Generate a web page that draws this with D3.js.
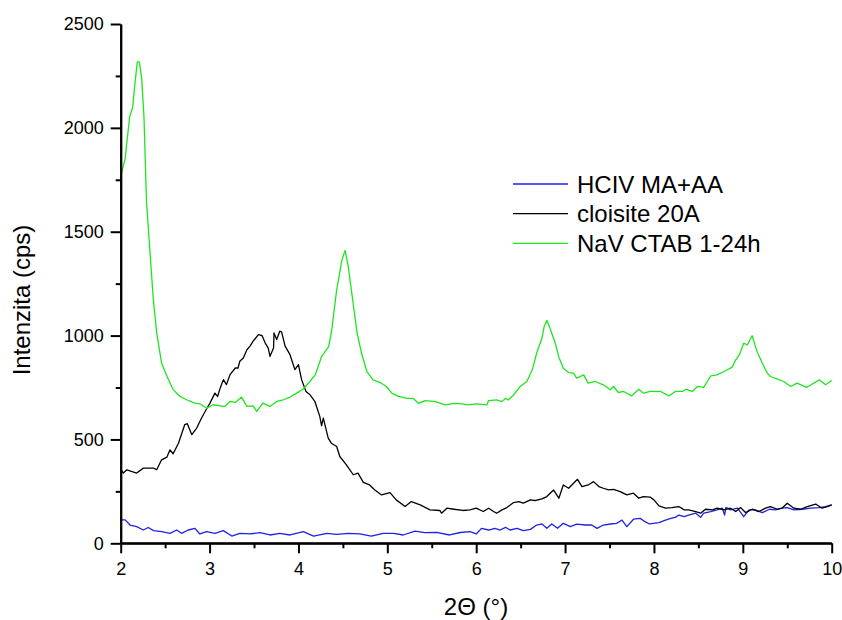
<!DOCTYPE html>
<html>
<head>
<meta charset="utf-8">
<script src="https://cdn.jsdelivr.net/npm/d3@7"></script>
<style>
  body { margin: 0; background: #fff; }
  svg { display: block; font-family: "Liberation Sans", Arial, sans-serif; }
</style>
</head>
<body>
<div class="chart-area"></div>
<script>
// series: [2theta, intensity (cps)]
const hciv = [[2.0,113],[2.05,113],[2.105,88],[2.18,80],[2.255,64],[2.31,76],[2.37,61],[2.46,56],[2.555,48],[2.63,64],[2.685,48],[2.76,64],[2.836,72],[2.89,45],[2.967,56],[3.06,48],[3.155,61],[3.25,35],[3.34,48],[3.455,45],[3.57,51],[3.68,40],[3.79,48],[3.905,40],[4.055,56],[4.17,35],[4.32,48],[4.43,43],[4.56,48],[4.69,45],[4.82,35],[4.955,48],[5.07,48],[5.18,40],[5.31,59],[5.42,51],[5.555,53],[5.7,40],[5.82,52],[5.93,56],[6.0,45],[6.06,72],[6.14,64],[6.21,72],[6.27,64],[6.33,77],[6.38,64],[6.46,72],[6.53,61],[6.61,67],[6.68,88],[6.74,93],[6.795,72],[6.85,93],[6.915,72],[6.98,96],[7.06,80],[7.13,92],[7.23,88],[7.3,88],[7.36,72],[7.43,88],[7.51,93],[7.58,96],[7.64,112],[7.695,80],[7.77,116],[7.845,120],[7.9,104],[7.95,93],[8.056,100],[8.13,112],[8.19,120],[8.24,125],[8.28,136],[8.34,128],[8.39,136],[8.47,145],[8.525,125],[8.56,145],[8.64,153],[8.71,161],[8.77,169],[8.795,136],[8.81,173],[8.86,161],[8.94,169],[9.01,128],[9.07,161],[9.14,161],[9.22,148],[9.3,164],[9.37,161],[9.44,169],[9.5,172],[9.575,161],[9.67,164],[9.76,169],[9.86,172],[9.93,177],[10.0,185]];

const cloisite = [[2.0,357],[2.03,338],[2.07,354],[2.12,346],[2.18,338],[2.255,362],[2.37,362],[2.405,354],[2.46,402],[2.52,415],[2.555,450],[2.59,431],[2.65,482],[2.72,571],[2.75,576],[2.8,523],[2.855,555],[2.91,603],[2.96,643],[3.005,675],[3.06,723],[3.09,707],[3.12,748],[3.155,788],[3.19,764],[3.23,812],[3.29,844],[3.32,844],[3.34,876],[3.38,892],[3.42,932],[3.455,949],[3.49,973],[3.55,1005],[3.59,1000],[3.625,965],[3.66,940],[3.68,900],[3.72,940],[3.725,1013],[3.755,981],[3.79,1021],[3.81,1018],[3.85,949],[3.905,908],[3.96,836],[4.0,860],[4.035,788],[4.085,731],[4.13,715],[4.185,683],[4.24,611],[4.26,566],[4.28,603],[4.335,506],[4.37,482],[4.43,466],[4.465,418],[4.54,378],[4.617,330],[4.67,338],[4.73,293],[4.8,281],[4.86,257],[4.935,233],[5.03,244],[5.1,209],[5.2,177],[5.27,201],[5.37,185],[5.48,161],[5.59,158],[5.61,145],[5.67,169],[5.75,164],[5.85,158],[5.93,161],[6.0,169],[6.08,153],[6.14,169],[6.195,153],[6.23,145],[6.29,161],[6.345,172],[6.42,196],[6.48,201],[6.53,193],[6.61,209],[6.66,206],[6.74,214],[6.795,225],[6.87,257],[6.93,217],[6.98,281],[7.04,265],[7.095,289],[7.14,308],[7.19,273],[7.26,281],[7.32,297],[7.38,273],[7.43,265],[7.49,257],[7.545,260],[7.62,249],[7.695,233],[7.77,241],[7.83,217],[7.88,225],[7.96,222],[8.0,209],[8.056,180],[8.13,169],[8.2,172],[8.28,177],[8.34,161],[8.39,161],[8.47,153],[8.525,145],[8.58,164],[8.66,161],[8.71,169],[8.79,161],[8.86,169],[8.92,153],[8.975,172],[9.03,148],[9.105,164],[9.18,153],[9.255,169],[9.31,177],[9.39,164],[9.44,169],[9.5,193],[9.575,169],[9.65,164],[9.725,177],[9.82,189],[9.89,169],[9.95,177],[10.0,185]];

const navCtab = [[2.0,1765],[2.05,1852],[2.1,2052],[2.135,2100],[2.16,2213],[2.187,2318],[2.21,2318],[2.236,2237],[2.262,2052],[2.29,1648],[2.33,1400],[2.367,1174],[2.405,1013],[2.46,868],[2.52,804],[2.59,740],[2.667,707],[2.74,691],[2.836,675],[2.89,672],[2.967,651],[3.04,667],[3.12,662],[3.17,659],[3.23,683],[3.29,678],[3.36,704],[3.42,659],[3.49,662],[3.53,635],[3.6,675],[3.68,659],[3.755,683],[3.83,691],[3.905,704],[3.98,723],[4.055,743],[4.13,780],[4.19,811],[4.26,899],[4.34,947],[4.375,1028],[4.43,1220],[4.49,1365],[4.525,1410],[4.56,1333],[4.62,1140],[4.66,1012],[4.71,915],[4.77,827],[4.84,787],[4.92,774],[4.99,755],[5.05,723],[5.125,707],[5.22,698],[5.29,698],[5.35,674],[5.425,687],[5.54,682],[5.65,666],[5.76,674],[5.84,671],[5.91,666],[6.0,671],[6.12,666],[6.14,687],[6.23,690],[6.29,682],[6.33,698],[6.36,690],[6.42,714],[6.495,755],[6.57,779],[6.63,835],[6.68,915],[6.74,988],[6.765,1044],[6.795,1073],[6.83,1036],[6.89,963],[6.93,896],[6.98,843],[7.04,822],[7.095,819],[7.13,795],[7.21,811],[7.26,771],[7.34,779],[7.43,763],[7.51,739],[7.545,755],[7.6,726],[7.66,731],[7.75,710],[7.83,742],[7.88,723],[7.96,731],[8.075,731],[8.17,710],[8.24,731],[8.32,731],[8.36,742],[8.43,731],[8.49,755],[8.56,751],[8.6,779],[8.64,806],[8.71,811],[8.81,832],[8.88,848],[8.92,883],[8.96,907],[9.01,963],[9.05,955],[9.08,980],[9.105,999],[9.16,923],[9.22,867],[9.275,819],[9.31,803],[9.39,790],[9.46,779],[9.54,755],[9.61,771],[9.72,751],[9.86,787],[9.93,763],[10.0,784]];

const seriesNames = ["HCIV MA+AA", "cloisite 20A", "NaV CTAB 1-24h"];
const xTicks = [2, 3, 4, 5, 6, 7, 8, 9, 10];
const xMinor = [2.5, 3.5, 4.5, 5.5, 6.5, 7.5, 8.5, 9.5];
const yTicks = [0, 500, 1000, 1500, 2000, 2500];
const yMinor = [250, 750, 1250, 1750, 2250];
const xTitle = "2Θ (°)";
const yTitle = "Intenzita (cps)";

const width = 842, height = 620;
const margin = { top: 24, right: 10.3, bottom: 76.7, left: 120.7 };
const colors = ["#2020e6", "#000000", "#1ee61e"];

const svg = d3.select('.chart-area').append('svg')
    .attr('width', width).attr('height', height);

svg.append('rect').attr('width', width).attr('height', height).attr('fill', '#fff');

const x = d3.scaleLinear().domain([2, 10]).range([margin.left, width - margin.right]);
const y = d3.scaleLinear().domain([0, 2500]).range([height - margin.bottom, margin.top]);

// --------- series
const line = d3.line().x(d => x(d[0])).y(d => y(d[1]));
[hciv, cloisite, navCtab].forEach((s, i) => {
    svg.append('path')
        .datum(s)
        .attr('fill', 'none')
        .attr('stroke', colors[i])
        .attr('stroke-width', 1.3)
        .attr('stroke-linejoin', 'round')
        .attr('d', line);
});

// --------- axes
const styleAxis = g => g
    .call(g => g.selectAll('path, line').attr('stroke', '#000').attr('stroke-width', 2))
    .call(g => g.selectAll('text').attr('fill', '#000').style('font-size', '18px'));

svg.append('g')
    .attr('transform', `translate(0,${y(0)})`)
    .call(d3.axisBottom(x).tickValues(xMinor).tickSize(5).tickSizeOuter(0).tickFormat(''))
    .call(styleAxis);

svg.append('g')
    .attr('transform', `translate(0,${y(0)})`)
    .call(d3.axisBottom(x).tickValues(xTicks).tickSize(10).tickSizeOuter(0).tickPadding(9)
        .tickFormat(d3.format('d')))
    .call(styleAxis)
    .call(g => g.select('.domain').attr('d', `M${x(2)},0H${x(10)}`));

svg.append('g')
    .attr('transform', `translate(${x(2)},0)`)
    .call(d3.axisLeft(y).tickValues(yMinor).tickSize(5).tickSizeOuter(0).tickFormat(''))
    .call(styleAxis);

svg.append('g')
    .attr('transform', `translate(${x(2)},0)`)
    .call(d3.axisLeft(y).tickValues(yTicks).tickSize(10).tickSizeOuter(0).tickPadding(7)
        .tickFormat(d3.format('d')))
    .call(styleAxis);

// --------- titles
svg.append('text')
    .attr('x', 476).attr('y', 615)
    .attr('text-anchor', 'middle')
    .style('font-size', '24px')
    .text(xTitle);

svg.append('text')
    .attr('transform', 'translate(30,300) rotate(-90)')
    .attr('text-anchor', 'middle')
    .style('font-size', '24px')
    .text(yTitle);

// --------- legend
const legend = svg.append('g').attr('transform', 'translate(513,184)');
seriesNames.forEach((name, i) => {
    const row = legend.append('g').attr('transform', `translate(0,${i * 29.7})`);
    row.append('line')
        .attr('x1', 0).attr('x2', 55)
        .attr('stroke', colors[i]).attr('stroke-width', 1.3);
    row.append('text')
        .attr('x', 64).attr('y', 8.5)
        .style('font-size', '24px')
        .text(name);
});
</script>
</body>
</html>
